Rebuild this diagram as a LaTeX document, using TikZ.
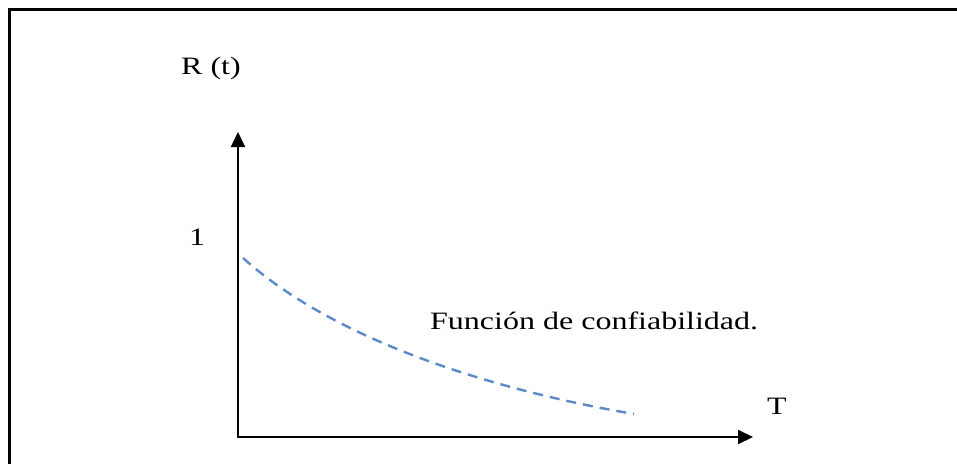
\documentclass[tikz,border=0pt]{standalone}
\usepackage{fontspec}
\setmainfont[FakeStretch=1.28]{Liberation Serif}
\usetikzlibrary{arrows.meta}
\definecolor{curveblue}{HTML}{5B8AC8}
\begin{document}
\begin{tikzpicture}[x=1pt,y=-1pt,
  lbl/.style={inner sep=0pt,font=\fontsize{25}{30}\selectfont,anchor=base},
  axis/.style={line width=2pt,black,-{Triangle[length=15pt,width=14pt]}},
  curve/.style={line width=2.4pt,curveblue,dash pattern=on 10pt off 7pt}]
\useasboundingbox (0,0) rectangle (957,463);
\draw[line width=2.5pt] (9.5,475) -- (9.5,9.5) -- (970,9.5);
\coordinate (o) at (238,437);
\coordinate (ytop) at (238,132);
\coordinate (xend) at (753,437);
\draw[axis] (o) -- (ytop);
\draw[axis] ([xshift=-1pt]o) -- (xend);
\node[lbl] (rt) at (211,74) {R (t)};
\node[lbl] (one) at (197,245) {1};
\node[lbl] (tl) at (777,414) {T};
\node[lbl,anchor=base west] (fn) at (430,329) {Función de confiabilidad.};
\coordinate (cs) at (243,258);
\coordinate (ce) at (634,414);
\draw[curve] (cs) .. controls (325,332) and (470,386) .. (ce);
\end{tikzpicture}
\end{document}
